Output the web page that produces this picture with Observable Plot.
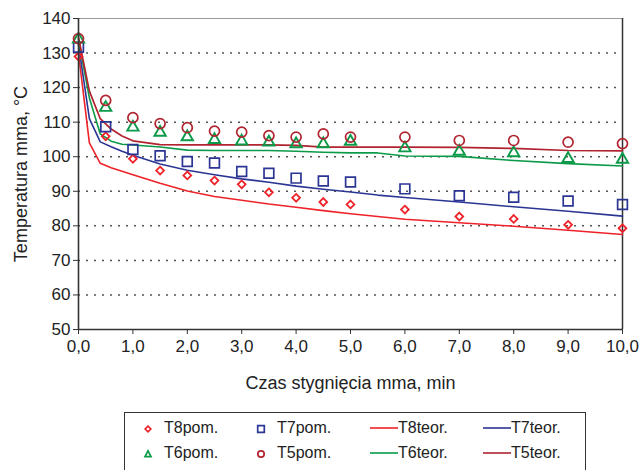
<!DOCTYPE html>
<html>
<head>
<meta charset="utf-8">
<script src="https://cdn.jsdelivr.net/npm/d3@7"></script>
<script src="https://cdn.jsdelivr.net/npm/@observablehq/plot@0.6"></script>
<style>
  html, body { margin: 0; padding: 0; background: white; }
  body { width: 643px; height: 470px; overflow: hidden; position: relative; font-family: "Liberation Sans", Arial, sans-serif; }
  #legend { position: absolute; left: 124px; top: 412px; width: 462px; height: 70px; border: 1px solid #333; box-sizing: border-box; }
  .item { position: absolute; font-size: 16px; color: #222; display: flex; align-items: center; line-height: 1; }
  .item svg { display: block; }
</style>
</head>
<body>
<div id="chart"></div>
<div id="legend"></div>
<script>
// ---- data ----
const pomT = [0, 0.5, 1, 1.5, 2, 2.5, 3, 3.5, 4, 4.5, 5, 6, 7, 8, 9, 10];
const T8pom = [129, 105.9, 99.4, 96.0, 94.6, 93.1, 92.0, 89.7, 88.1, 86.9, 86.2, 84.7, 82.7, 82.0, 80.3, 79.3];
const T7pom = [131.7, 108.7, 102.1, 100.3, 98.6, 98.2, 95.7, 95.2, 93.8, 93.0, 92.7, 90.7, 88.7, 88.3, 87.2, 86.2];
const T6pom = [134.0, 114.2, 108.5, 107.0, 105.7, 104.9, 104.5, 104.2, 103.7, 103.7, 104.4, 102.5, 101.5, 101.1, 99.4, 99.2];
const T5pom = [134.2, 116.3, 111.3, 109.6, 108.4, 107.4, 107.1, 106.1, 105.7, 106.6, 105.7, 105.7, 104.7, 104.7, 104.2, 103.8];

const teorT = [0, 0.2, 0.4, 0.6, 0.8, 1, 1.5, 2, 2.5, 3, 3.5, 4, 4.5, 5, 5.5, 6, 7, 8, 9, 10];
const T8teor = [130, 104, 98.1, 96.8, 95.8, 94.8, 92.3, 90.1, 88.5, 87.4, 86.3, 85.4, 84.4, 83.5, 82.7, 81.9, 80.9, 79.9, 78.7, 77.5];
const T7teor = [132.5, 111, 104.3, 102.9, 101.6, 100.4, 97.9, 96.1, 94.8, 93.6, 92.6, 91.5, 90.6, 89.8, 88.9, 88.2, 86.9, 85.5, 84.2, 82.8];
const T6teor = [134, 117, 106.6, 104.5, 103.6, 103.4, 102.8, 101.9, 101.8, 101.8, 101.8, 101.6, 101.3, 101.1, 101.1, 100.2, 100.1, 98.9, 98.0, 97.3];
const T5teor = [134.5, 119, 111, 108, 106, 104.6, 103.5, 103.4, 103.4, 103.4, 103.4, 103.3, 102.8, 102.8, 102.8, 102.8, 102.7, 102.4, 101.8, 101.7];

const xTicks = [0, 1, 2, 3, 4, 5, 6, 7, 8, 9, 10];
const yTicks = [50, 60, 70, 80, 90, 100, 110, 120, 130, 140];
const gridVals = [60, 70, 80, 90, 100, 110, 120, 130];

const xTitle = "Czas stygnięcia mma, min";
const yTitle = "Temperatura mma, °C";

const colors = { T8: "#ee2229", T7: "#2b3594", T6: "#0b9a48", T5: "#b0232f" };

// ---- build tables ----
const pts = (arr) => pomT.map((t, i) => ({ t, v: arr[i] }));
const lns = (arr) => teorT.map((t, i) => ({ t, v: arr[i] }));

const fmt = d => d.toFixed(1).replace(".", ",");

// rotated-square diamond symbol
const squareDiamond = {
  draw(ctx, size) {
    const h = Math.sqrt(size / 2);
    ctx.moveTo(0, -h); ctx.lineTo(h, 0); ctx.lineTo(0, h); ctx.lineTo(-h, 0); ctx.closePath();
  }
};

const chart = Plot.plot({
  width: 643,
  height: 400,
  marginLeft: 78,
  marginRight: 21,
  marginTop: 18,
  marginBottom: 71,
  style: { fontFamily: "'Liberation Sans', Arial, sans-serif", fontSize: "17px", background: "white", color: "#222" },
  x: { domain: [0, 10] },
  y: { domain: [50, 140] },
  marks: [
    Plot.ruleY(gridVals, { stroke: "#555", strokeDasharray: "2,6", strokeWidth: 1.5 }),
    Plot.ruleY([140], { stroke: "#999", strokeWidth: 1 }),
    Plot.ruleX([10], { stroke: "#333", strokeWidth: 1.5 }),
    Plot.axisX({ ticks: xTicks, tickFormat: fmt, tickSize: 5, tickPadding: 5, label: null, stroke: "#333", fill: "#222", fontSize: 17 }),
    Plot.axisY({ ticks: yTicks, tickFormat: d => String(d), tickSize: 5, tickPadding: 3, label: null, stroke: "#333", fill: "#222", fontSize: 17 }),
    Plot.line(lns(T8teor), { x: "t", y: "v", stroke: colors.T8, strokeWidth: 1.6 }),
    Plot.line(lns(T7teor), { x: "t", y: "v", stroke: colors.T7, strokeWidth: 1.6 }),
    Plot.line(lns(T6teor), { x: "t", y: "v", stroke: colors.T6, strokeWidth: 1.6 }),
    Plot.line(lns(T5teor), { x: "t", y: "v", stroke: colors.T5, strokeWidth: 1.7 }),
    Plot.dot(pts(T8pom), { x: "t", y: "v", symbol: squareDiamond, r: 3.1, stroke: colors.T8, fill: "none", strokeWidth: 1.8 }),
    Plot.dot(pts(T7pom), { x: "t", y: "v", symbol: "square", r: 5.5, stroke: colors.T7, fill: "none", strokeWidth: 1.7 }),
    Plot.dot(pts(T6pom), { x: "t", y: "v", symbol: "triangle", r: 4.2, stroke: colors.T6, fill: "none", strokeWidth: 1.9 }),
    Plot.dot(pts(T5pom), { x: "t", y: "v", symbol: "circle", r: 5, stroke: colors.T5, fill: "none", strokeWidth: 1.7 }),
    Plot.ruleX([0], { stroke: "#333", strokeWidth: 1.6 }),
    Plot.ruleY([50], { stroke: "#333", strokeWidth: 1.6 }),
    Plot.text([xTitle], { frameAnchor: "bottom", dy: 54, textAnchor: "middle", lineAnchor: "middle", fontSize: 18, fill: "#222" }),
    Plot.text([yTitle], { frameAnchor: "left", dx: -57, rotate: -90, textAnchor: "middle", lineAnchor: "middle", fontSize: 18, fill: "#222" })
  ]
});
document.getElementById("chart").appendChild(chart);

// ---- legend ----
const legendItems = [
  { label: "T8pom.", kind: "dot", sym: "diamond", color: colors.T8, left: 18, top: 15 },
  { label: "T7pom.", kind: "dot", sym: "square", color: colors.T7, left: 131, top: 15 },
  { label: "T8teor.", kind: "line", color: colors.T8, left: 245, top: 15 },
  { label: "T7teor.", kind: "line", color: colors.T7, left: 358, top: 15 },
  { label: "T6pom.", kind: "dot", sym: "triangle", color: colors.T6, left: 18, top: 40 },
  { label: "T5pom.", kind: "dot", sym: "circle", color: colors.T5, left: 131, top: 40 },
  { label: "T6teor.", kind: "line", color: colors.T6, left: 245, top: 40 },
  { label: "T5teor.", kind: "line", color: colors.T5, left: 358, top: 40 }
];
const symPath = {
  diamond: "M0,-2.8L2.8,0L0,2.8L-2.8,0Z",
  square: "M-3.3,-3.3H3.3V3.3H-3.3Z",
  triangle: "M0,-3.2L3,2.6L-3,2.6Z",
  circle: "M3.2,0A3.2,3.2 0 1,1 -3.2,0A3.2,3.2 0 1,1 3.2,0Z"
};
const legend = document.getElementById("legend");
for (const it of legendItems) {
  const div = document.createElement("div");
  div.className = "item";
  div.style.left = it.left + "px";
  div.style.top = (it.top - 8) + "px";
  let sw;
  if (it.kind === "dot") {
    sw = `<svg width="21" height="16"><path transform="translate(5,9)" d="${symPath[it.sym]}" fill="none" stroke="${it.color}" stroke-width="1.7"/></svg>`;
  } else {
    sw = `<svg width="28" height="16"><line x1="0" x2="28" y1="8" y2="8" stroke="${it.color}" stroke-width="1.6"/></svg>`;
  }
  div.innerHTML = sw + `<span>${it.label}</span>`;
  legend.appendChild(div);
}
</script>
</body>
</html>
